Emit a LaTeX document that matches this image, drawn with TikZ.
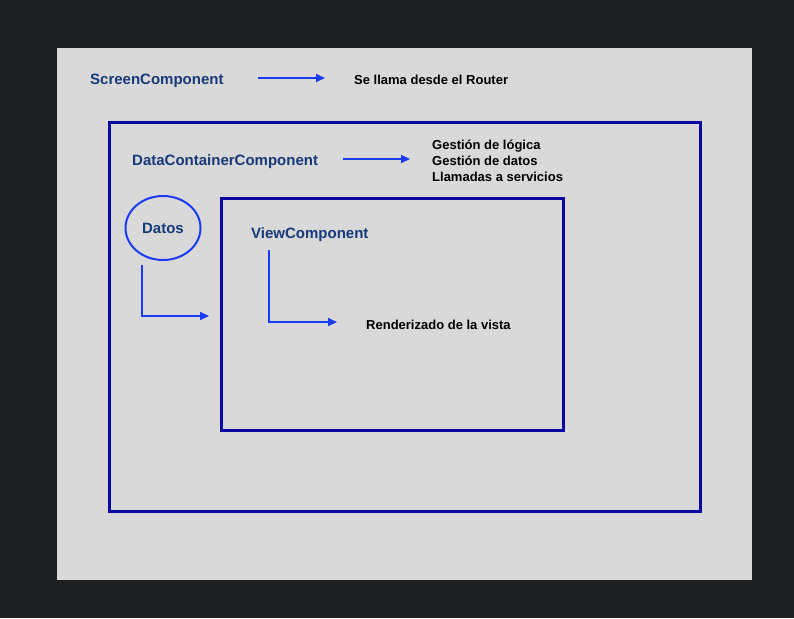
\documentclass[tikz,border=0pt]{standalone}
\usepackage{fontspec}
\setmainfont{Liberation Sans}
\usetikzlibrary{arrows.meta,shapes.geometric}
\definecolor{bgdark}{HTML}{1E1F21}
\definecolor{panel}{HTML}{D9D9D9}
\definecolor{boxblue}{HTML}{0A0AA0}
\definecolor{arrblue}{HTML}{1A3CF0}
\definecolor{titleblue}{HTML}{173A7A}
\tikzset{
  title/.style={font=\fontsize{15}{18}\selectfont\bfseries, text=titleblue, inner sep=0pt, anchor=west},
  note/.style={font=\fontsize{13}{16}\selectfont\bfseries, text=black, inner sep=0pt, anchor=west, align=left},
  frame/.style={draw=boxblue, line width=3pt},
  conn/.style={draw=arrblue, line width=2pt, -{Triangle[length=9pt,width=8pt]}},
}
\begin{document}
\begin{tikzpicture}[x=1pt,y=-1pt]
\fill[bgdark] (0,0) rectangle (794,618);
\useasboundingbox (0,0) rectangle (794,618);
\fill[panel, draw=white!85!black, line width=0.5pt] (57,48) rectangle (751,579);
\draw[frame] (109,122) rectangle (700,511);
\draw[frame] (221,198) rectangle (563,430);
\node[draw=arrblue, line width=2pt, ellipse, minimum width=75pt, minimum height=64pt, inner sep=0pt, font=\fontsize{15}{18}\selectfont\bfseries, text=titleblue] (datos) at (163,228) {Datos};
\node[title] (screen) at (90,81) {ScreenComponent};
\node[note] (router) at (354,80) {Se llama desde el Router};
\coordinate (s1) at (258,78);
\coordinate (s2) at (325,78);
\draw[conn] (s1) -- (s2);
\node[title] (dcc) at (132,162) {DataContainerComponent};
\node[note] (gest) at (432,161) {Gestión de lógica\\Gestión de datos\\Llamadas a servicios};
\coordinate (d1) at (343,159);
\coordinate (d2) at (410,159);
\draw[conn] (d1) -- (d2);
\node[title] (view) at (251,235) {ViewComponent};
\coordinate (a1) at (142,265);
\coordinate (a2) at (142,316);
\coordinate (a3) at (209,316);
\draw[conn] (a1) -- (a2) -- (a3);
\coordinate (b1) at (269,250);
\coordinate (b2) at (269,322);
\coordinate (b3) at (337,322);
\draw[conn] (b1) -- (b2) -- (b3);
\node[note] (render) at (366,325) {Renderizado de la vista};
\end{tikzpicture}
\end{document}
